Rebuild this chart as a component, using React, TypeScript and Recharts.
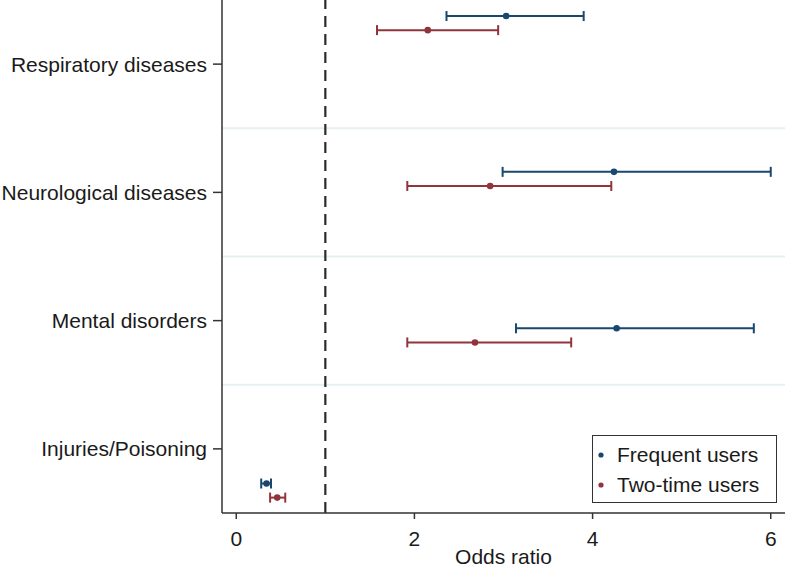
import React from "react";
import {
  ErrorBar,
  Legend,
  ReferenceLine,
  Scatter,
  ScatterChart,
  XAxis,
  YAxis,
} from "recharts";

// category labels sit on the y axis at these row positions
const categories = [
  "Respiratory diseases",
  "Neurological diseases",
  "Mental disorders",
  "Injuries/Poisoning",
];
const categoryTicks = [0.5, 1.5, 2.5, 3.5];
const separators = [1, 2, 3];
const xTicks = [0, 2, 4, 6];
const nullValue = 1;

// row positions of the estimates (Stata spreads them differently from the labels)
const frequentRow = [0.125, 1.34, 2.56, 3.77];
const twoTimeRow = [0.235, 1.45, 2.67, 3.88];

const frequentOR = [3.03, 4.24, 4.27, 0.34];
const frequentLow = [2.36, 2.99, 3.14, 0.28];
const frequentHigh = [3.9, 6.0, 5.81, 0.39];

const twoTimeOR = [2.15, 2.85, 2.68, 0.46];
const twoTimeLow = [1.58, 1.92, 1.92, 0.38];
const twoTimeHigh = [2.94, 4.21, 3.76, 0.55];

const BLUE = "#1a476f";
const RED = "#90353b";
const FONT = '"Liberation Sans", Arial, Helvetica, sans-serif';

type Point = { row: number; or: number; ci: [number, number] };

function buildSeries(rows: number[], or: number[], low: number[], high: number[]): Point[] {
  return rows.map((row, i) => ({
    row,
    or: or[i],
    ci: [or[i] - low[i], high[i] - or[i]],
  }));
}

const frequentData = buildSeries(frequentRow, frequentOR, frequentLow, frequentHigh);
const twoTimeData = buildSeries(twoTimeRow, twoTimeOR, twoTimeLow, twoTimeHigh);

const dot = (color: string) => (props: any) =>
  <circle cx={props.cx} cy={props.cy} r={3.3} fill={color} />;

function LegendBox(props: any) {
  const items = (props.payload ?? []) as { value: string; color: string }[];
  return (
    <div
      style={{
        boxSizing: "border-box",
        width: 185,
        height: 68,
        border: "1.5px solid #333",
        background: "#fff",
        fontFamily: FONT,
        fontSize: 21,
        color: "#1a1a1a",
        paddingTop: 4,
      }}
    >
      {items.map((item) => (
        <div key={item.value} style={{ display: "flex", alignItems: "center", height: 30 }}>
          <svg width={24} height={30} style={{ flex: "none" }}>
            <circle cx={8} cy={15} r={2.6} fill={item.color} />
          </svg>
          <span>{item.value}</span>
        </div>
      ))}
    </div>
  );
}

export default function App() {
  return (
    <div style={{ position: "absolute", left: 0, top: 0, background: "#fff" }}>
      <ScatterChart
        width={787}
        height={568}
        margin={{ top: 0, right: 2, bottom: 0, left: 0 }}
        style={{ fontFamily: FONT }}
      >
        {separators.map((s) => (
          <ReferenceLine key={s} y={s} stroke="#e6eff1" strokeWidth={2} />
        ))}
        <ReferenceLine
          x={nullValue}
          stroke="#2b2b2b"
          strokeWidth={2.2}
          strokeDasharray="11 7"
        />
        <XAxis
          type="number"
          dataKey="or"
          domain={[-0.16, 6.16]}
          ticks={xTicks}
          height={55}
          stroke="#333"
          strokeWidth={1.5}
          tickSize={6}
          tickMargin={12}
          tick={{ fill: "#1a1a1a", fontSize: 21 }}
          allowDataOverflow
          label={{
            value: "Odds ratio",
            position: "insideBottom",
            offset: 4,
            fill: "#1a1a1a",
            fontSize: 21,
          }}
        />
        <YAxis
          type="number"
          dataKey="row"
          domain={[0, 4]}
          reversed
          ticks={categoryTicks}
          tickFormatter={(v: number) => categories[Math.floor(v)] ?? ""}
          width={222}
          stroke="#333"
          strokeWidth={1.5}
          tickSize={9}
          tickMargin={6}
          tick={{ fill: "#1a1a1a", fontSize: 21 }}
          allowDataOverflow
        />
        <Scatter
          name="Frequent users"
          data={frequentData}
          fill={BLUE}
          shape={dot(BLUE)}
          isAnimationActive={false}
        >
          <ErrorBar
            dataKey="ci"
            direction="x"
            width={5}
            stroke={BLUE}
            strokeWidth={2}
            isAnimationActive={false}
          />
        </Scatter>
        <Scatter
          name="Two-time users"
          data={twoTimeData}
          fill={RED}
          shape={dot(RED)}
          isAnimationActive={false}
        >
          <ErrorBar
            dataKey="ci"
            direction="x"
            width={5}
            stroke={RED}
            strokeWidth={2}
            isAnimationActive={false}
          />
        </Scatter>
        <Legend
          layout="horizontal"
          verticalAlign="middle"
          align="center"
          width={185}
          height={68}
          wrapperStyle={{ left: 592, top: 435, width: 185, height: 68 }}
          content={<LegendBox />}
        />
      </ScatterChart>
    </div>
  );
}
